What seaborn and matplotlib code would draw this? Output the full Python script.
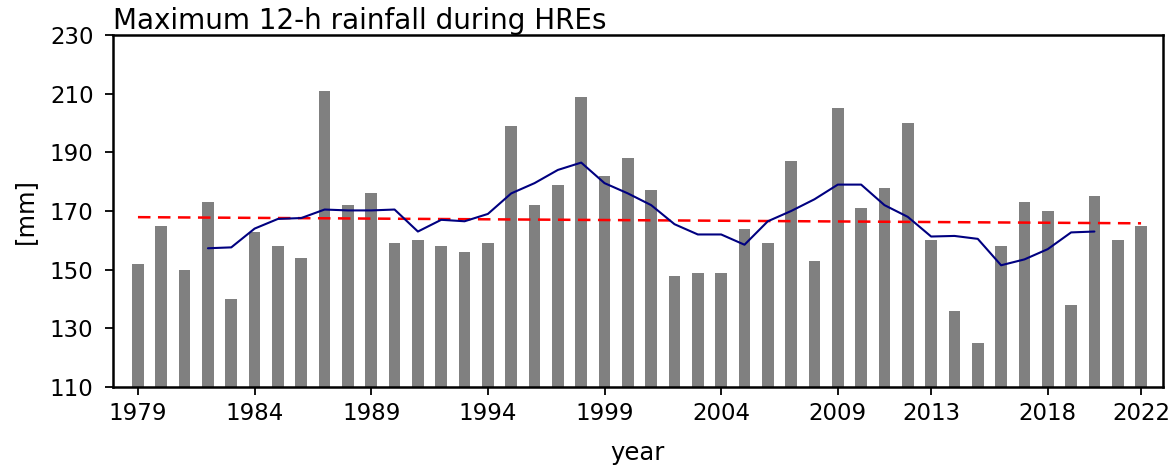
import numpy as np
import pandas as pd
import matplotlib
matplotlib.use("Agg")
import matplotlib.pyplot as plt
import seaborn as sns

years = list(range(1979, 2023))
rainfall = [152, 165, 150, 173, 140, 163, 158, 154, 211, 172,
            176, 159, 160, 158, 156, 159, 199, 172, 179, 209,
            182, 188, 177, 148, 149, 149, 164, 159, 187, 153,
            205, 171, 178, 200, 160, 136, 125, 158, 173, 170,
            138, 175, 160, 165]

ma_years = list(range(1982, 2021))
ma_values = [157.3, 157.6, 164.0, 167.3, 167.6, 170.5, 170.2, 170.2, 170.5, 163.0,
             167.0, 166.5, 169.0, 176.0, 179.5, 184.0, 186.5, 179.5, 176.0, 172.0,
             165.5, 162.0, 162.0, 158.5, 166.5, 170.0, 174.0, 179.0, 179.0, 172.0,
             168.0, 161.3, 161.5, 160.5, 151.5, 153.5, 157.0, 162.7, 163.0]

trend_years = [1979, 2022]
trend_values = [167.9, 165.8]

xtick_years = [1979, 1984, 1989, 1994, 1999, 2004, 2009, 2013, 2018, 2022]
ytick_values = [110, 130, 150, 170, 190, 210, 230]

sns.set_theme(style="ticks")
plt.rcParams['font.family'] = ['DejaVu Sans']

fig = plt.figure(figsize=(11.75, 4.68), dpi=100)
ax = fig.add_axes([113/1175, 1 - 387/468, (1163 - 113)/1175, (387 - 35)/468])

df = pd.DataFrame({"year": years, "rain": rainfall})
sns.barplot(data=df, x="year", y="rain", native_scale=True, width=0.5,
            color="grey", saturation=1, linewidth=0, ax=ax, zorder=1)

sns.lineplot(x=ma_years, y=ma_values, color="navy", lw=1.5, ax=ax, zorder=3)
sns.lineplot(x=trend_years, y=trend_values, color="red", lw=1.8,
             linestyle=(0, (5, 3)), ax=ax, zorder=2)

ax.set_xlim(1977.93, 2022.94)
ax.set_ylim(110, 230)
ax.set_xticks(xtick_years)
ax.set_xticklabels([str(y) for y in xtick_years])
ax.set_yticks(ytick_values)

ax.tick_params(axis="both", direction="out", length=6, width=1.3,
               labelsize=16.5, color="black", labelcolor="black")
ax.tick_params(axis="x", pad=5)
ax.tick_params(axis="y", pad=8)
for s in ax.spines.values():
    s.set_visible(True)
    s.set_linewidth(1.8)
    s.set_color("black")

ax.set_xlabel("year", fontsize=17.5, color="black", labelpad=11)
ax.set_ylabel("[mm]", fontsize=17.5, color="black", labelpad=9)
ax.set_title("Maximum 12-h rainfall during HREs", loc="left", fontsize=20,
             color="black", pad=4)

fig.savefig("out.png", dpi=100)
